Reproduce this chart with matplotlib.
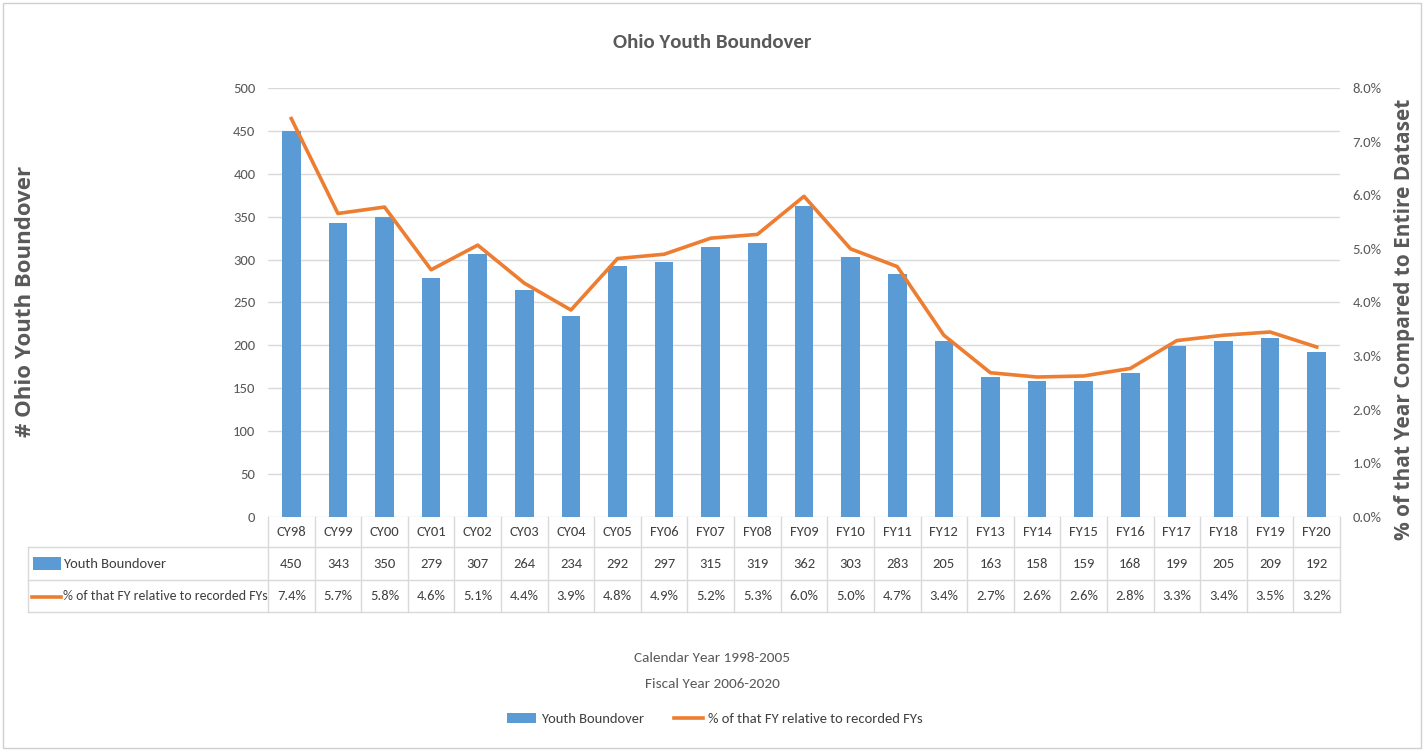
import matplotlib.pyplot as plt
from matplotlib.lines import Line2D
from matplotlib.patches import Rectangle
from matplotlib.transforms import blended_transform_factory

# --- data ---
categories = ["CY98", "CY99", "CY00", "CY01", "CY02", "CY03", "CY04", "CY05",
              "FY06", "FY07", "FY08", "FY09", "FY10", "FY11", "FY12", "FY13",
              "FY14", "FY15", "FY16", "FY17", "FY18", "FY19", "FY20"]
boundover = [450, 343, 350, 279, 307, 264, 234, 292, 297, 315, 319, 362,
             303, 283, 205, 163, 158, 159, 168, 199, 205, 209, 192]
pct_of_total = [7.43, 5.66, 5.78, 4.61, 5.07, 4.36, 3.86, 4.82, 4.90, 5.20, 5.27, 5.98,
                5.00, 4.67, 3.39, 2.69, 2.61, 2.63, 2.77, 3.29, 3.39, 3.45, 3.17]

BAR_COLOR = "#5B9BD5"
LINE_COLOR = "#ED7D31"
TXT = "#595959"
DARK = "#404040"
GRID = "#D9D9D9"
NARROW = ["Carlito", "Liberation Sans", "DejaVu Sans"]
WIDE = ["Open Sans", "DejaVu Sans"]

W, H = 1424, 751
fig = plt.figure(figsize=(W / 100, H / 100), dpi=100)
fig.patch.set_facecolor("white")
fig.patches.append(Rectangle((3 / W, 3 / H), 1 - 6 / W, 1 - 6 / H, transform=fig.transFigure,
                             fill=False, edgecolor="#D0D0D0", linewidth=1))

# axes box in pixels: x 268..1340, y 88..517 (from top)
x0, x1, ytop, ybot = 268, 1340, 88, 517
ax = fig.add_axes([x0 / W, 1 - ybot / H, (x1 - x0) / W, (ybot - ytop) / H])
ax2 = ax.twinx()

n = len(categories)
xs = list(range(n))
ax.bar(xs, boundover, width=0.4, color=BAR_COLOR, zorder=2)
ax2.plot(xs, [p / 100 for p in pct_of_total], color=LINE_COLOR, linewidth=2.6, zorder=3)

ax.set_xlim(-0.5, n - 0.5)
ax.set_ylim(0, 500)
ax.set_yticks(range(0, 501, 50))
ax2.set_ylim(0, 0.08)
ax2.set_yticks([i / 100 for i in range(0, 9)])
ax2.set_yticklabels([f"{i}.0%" for i in range(0, 9)])
ax.yaxis.grid(True, color=GRID, linewidth=1, zorder=0)
ax.set_axisbelow(True)
ax.set_xticks([])

for a in (ax, ax2):
    for s in a.spines.values():
        s.set_visible(False)
    a.tick_params(axis="y", length=0, labelsize=10.5, labelcolor=TXT, pad=9)
    for lbl in a.get_yticklabels():
        lbl.set_family(NARROW)

ax.set_ylabel("# Ohio Youth Boundover", fontsize=16, fontweight="bold", color=TXT,
              family=WIDE)
ax.yaxis.set_label_coords((36 - x0) / (x1 - x0), 1 - (301 - ytop) / (ybot - ytop))
ax2.set_ylabel("% of that Year Compared to Entire Dataset", fontsize=15, fontweight="bold",
               color=TXT, family=WIDE, rotation=90)
ax2.yaxis.set_label_coords((1394 - x0) / (x1 - x0), 1 - (319 - ytop) / (ybot - ytop))

fig.text(712 / W, 1 - 43 / H, "Ohio Youth Boundover", ha="center", va="center",
         fontsize=15, fontweight="bold", color=TXT, family=NARROW)

# --- data table ---
tr = blended_transform_factory(ax.transData, fig.transFigure)


def fy(px):
    return 1 - px / H


for yy in (547, 580, 612):
    ax.add_line(Line2D([-0.5, n - 0.5], [fy(yy), fy(yy)], transform=tr, color=GRID, lw=1,
                       clip_on=False))
    fig.add_artist(Line2D([28 / W, x0 / W], [fy(yy), fy(yy)], color=GRID, lw=1))
fig.add_artist(Line2D([28 / W, 28 / W], [fy(547), fy(612)], color=GRID, lw=1))
for i in range(n + 1):
    ax.add_line(Line2D([i - 0.5, i - 0.5], [fy(517), fy(612)], transform=tr, color=GRID, lw=1,
                       clip_on=False))

for i, c in enumerate(categories):
    ax.text(i, fy(532), c, transform=tr, ha="center", va="center", fontsize=10.5,
            color=DARK, family=NARROW)
    ax.text(i, fy(564), str(boundover[i]), transform=tr, ha="center", va="center",
            fontsize=10.5, color=DARK, family=NARROW)
    ax.text(i, fy(596), f"{pct_of_total[i]:.1f}%", transform=tr, ha="center", va="center",
            fontsize=10.5, color=DARK, family=NARROW)

fig.patches.append(Rectangle((33 / W, fy(570)), 28 / W, 13 / H, transform=fig.transFigure,
                             facecolor=BAR_COLOR, edgecolor="none"))
fig.text(63 / W, fy(564), "Youth Boundover", ha="left", va="center", fontsize=10.5,
         color=DARK, family=NARROW)
fig.add_artist(Line2D([32 / W, 61 / W], [fy(597), fy(597)], color=LINE_COLOR, lw=2.6))
fig.text(63 / W, fy(596), "% of that FY relative to recorded FYs", ha="left", va="center",
         fontsize=10, color=DARK, family=NARROW)

# x axis title
fig.text(712 / W, fy(658), "Calendar Year 1998-2005", ha="center", va="center",
         fontsize=11, color=TXT, family=NARROW)
fig.text(712 / W, fy(684), "Fiscal Year 2006-2020", ha="center", va="center",
         fontsize=11, color=TXT, family=NARROW)

# legend
handles = [Rectangle((0, 0), 1, 1, facecolor=BAR_COLOR, edgecolor="none"),
           Line2D([0], [0], color=LINE_COLOR, lw=2.6)]
leg = fig.legend(handles, ["Youth Boundover", "% of that FY relative to recorded FYs"],
                 loc="center", bbox_to_anchor=(715 / W, fy(719)), ncol=2, frameon=False,
                 prop={"family": NARROW, "size": 10.5}, handlelength=2.0, handletextpad=0.35,
                 columnspacing=2.0)
for t in leg.get_texts():
    t.set_color(DARK)

fig.savefig("out.png", dpi=100)
